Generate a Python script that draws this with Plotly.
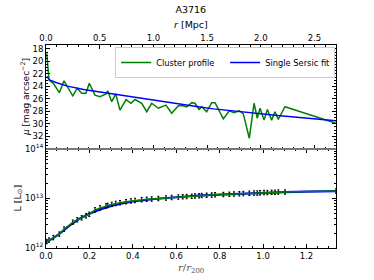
import plotly.graph_objects as go
import numpy as np

# ---------------- data ----------------
R200_MPC = 2.021  # Mpc, conversion between top (Mpc) and bottom (r/r200) axes

# surface-brightness profile (top panel): radius [Mpc], mu [mag arcsec^-2]
r_mpc = [0.007, 0.028, 0.068, 0.124, 0.168, 0.249, 0.291, 0.332, 0.372, 0.403,
         0.456, 0.503, 0.559, 0.574, 0.612, 0.649, 0.689, 0.745, 0.791, 0.829,
         0.891, 0.938, 0.984, 1.046, 1.117, 1.170, 1.232, 1.273, 1.310, 1.357,
         1.387, 1.425, 1.450, 1.496, 1.543, 1.574, 1.651, 1.707, 1.750, 1.800,
         1.837, 1.893, 1.937, 1.967, 1.993, 2.030, 2.061, 2.101, 2.132, 2.163,
         2.225, 2.700]
mu_profile = [18.7, 23.0, 23.5, 25.0, 23.1, 25.5, 24.3, 25.1, 25.1, 23.5,
              25.4, 25.65, 25.2, 24.7, 26.45, 25.2, 27.8, 26.1, 26.7, 26.1,
              26.7, 28.05, 26.7, 27.5, 27.0, 28.3, 27.1, 27.1, 27.3, 26.6,
              26.7, 27.7, 27.25, 28.05, 26.6, 26.6, 29.2, 27.9, 28.2, 27.9,
              28.4, 32.3, 26.7, 29.1, 27.5, 29.4, 27.7, 29.4, 28.05, 29.3,
              27.25, 29.9]

# single Sersic fit (top panel)
fit_r_mpc = [0.007, 0.037, 0.10, 0.20, 0.35, 0.50, 0.65, 0.80, 0.97, 1.12,
             1.25, 1.40, 1.56, 1.87, 2.18, 2.70]
fit_mu = [22.4, 23.0, 23.4, 23.95, 24.5, 24.9, 25.3, 25.7, 26.1, 26.45,
          26.85, 27.2, 27.6, 28.15, 28.7, 29.5]

# cumulative luminosity (bottom panel): log10(L / Lsun) at the profile radii
log_L_profile = [12.13, 12.16, 12.21, 12.28, 12.38, 12.52, 12.57, 12.61, 12.65, 12.68,
                 12.77, 12.81, 12.85, 12.86, 12.88, 12.90, 12.915, 12.935, 12.95, 12.96,
                 12.975, 12.985, 12.99, 13.0, 13.01, 13.02, 13.03, 13.035, 13.04, 13.045,
                 13.05, 13.055, 13.06, 13.065, 13.07, 13.075, 13.08, 13.085, 13.09, 13.095,
                 13.10, 13.105, 13.11, 13.11, 13.115, 13.12, 13.12, 13.125, 13.125, 13.13,
                 13.13, 13.15]

# cumulative luminosity of the Sersic fit (bottom panel)
fit_r_r200 = [0.0, 0.03, 0.06, 0.09, 0.12, 0.15, 0.20, 0.25, 0.30, 0.35,
              0.40, 0.50, 0.60, 0.70, 0.80, 0.90, 1.00, 1.10, 1.20, 1.336]
fit_log_L = [12.12, 12.19, 12.28, 12.39, 12.49, 12.58, 12.69, 12.78, 12.85, 12.90,
             12.94, 12.99, 13.03, 13.06, 13.08, 13.10, 13.115, 13.13, 13.14, 13.15]

top_tick_vals = [0.0, 0.5, 1.0, 1.5, 2.0, 2.5]
bottom_tick_vals = [0.0, 0.2, 0.4, 0.6, 0.8, 1.0, 1.2]
mu_tick_vals = [18, 20, 22, 24, 26, 28, 30, 32]
L_tick_vals = [1e12, 1e13, 1e14]
L_tick_text = ["10<sup>12</sup>", "10<sup>13</sup>", "10<sup>14</sup>"]

# ---------------- derived ----------------
r_r200 = [r / R200_MPC for r in r_mpc]
L_profile = [10 ** v for v in log_L_profile]
L_fit = [10 ** v for v in fit_log_L]
err_plus = [v * (10 ** 0.045 - 1) for v in L_profile]
err_minus = [v * (1 - 10 ** -0.045) for v in L_profile]

GREEN = "#008000"
BLUE = "#0000ff"
FONT = "DejaVu Sans"

fig = go.Figure()

fig.add_trace(go.Scatter(x=r_mpc, y=mu_profile, mode="lines", name="Cluster profile",
                         line=dict(color=GREEN, width=1.5), xaxis="x", yaxis="y"))
fig.add_trace(go.Scatter(x=fit_r_mpc, y=fit_mu, mode="lines", name="Single Sersic fit",
                         line=dict(color=BLUE, width=1.5), xaxis="x", yaxis="y"))

fig.add_trace(go.Scatter(x=fit_r_r200, y=L_fit, mode="lines", showlegend=False,
                         line=dict(color=BLUE, width=2.2), xaxis="x2", yaxis="y2"))
fig.add_trace(go.Scatter(x=r_r200, y=L_profile, mode="lines", showlegend=False,
                         line=dict(color=GREEN, width=1.5),
                         error_y=dict(type="data", array=err_plus, arrayminus=err_minus,
                                      color="black", thickness=1, width=1, visible=True),
                         xaxis="x2", yaxis="y2"))

SPLIT = 0.4877

common = dict(showline=True, linecolor="black", linewidth=1, mirror="allticks",
              ticks="inside", ticklen=4, tickcolor="black", showgrid=False,
              zeroline=False, tickfont=dict(family=FONT, size=8.5, color="black"))

fig.update_layout(
    width=374, height=280, autosize=False,
    margin=dict(l=46, r=38, t=45, b=32, autoexpand=False),
    paper_bgcolor="white", plot_bgcolor="white",
    font=dict(family=FONT, size=8.5, color="black"),
    title=dict(text="A3716", x=0.51, xanchor="center", y=0.964, yanchor="middle",
               font=dict(family=FONT, size=9.5, color="black")),
    showlegend=True,
    legend=dict(orientation="h", x=0.997, xanchor="right", y=0.99, yanchor="top",
                bgcolor="white", bordercolor="#cccccc", borderwidth=1,
                font=dict(family=FONT, size=8.3, color="black"),
                entrywidth=64, entrywidthmode="pixels",
                itemwidth=30, tracegroupgap=0),
    xaxis=dict(domain=[0, 1], anchor="y", side="top", range=[0, 2.7],
               tickvals=top_tick_vals, tickformat=".1f",
               minor=dict(ticks="inside", ticklen=2, dtick=0.1, tickcolor="black"),
               **common),
    yaxis=dict(domain=[SPLIT, 1], anchor="x", range=[34.03, 17.36],
               tickvals=mu_tick_vals,
               minor=dict(ticks="inside", ticklen=2, dtick=0.5, tickcolor="black"),
               **common),
    xaxis2=dict(domain=[0, 1], anchor="y2", range=[0, 1.336],
                tickvals=bottom_tick_vals, tickformat=".1f",
                minor=dict(ticks="inside", ticklen=2, dtick=0.05, tickcolor="black"),
                **common),
    yaxis2=dict(domain=[0, SPLIT], anchor="x2", type="log", range=[12, 14],
                tickvals=L_tick_vals, ticktext=L_tick_text,
                minor=dict(ticks="inside", ticklen=2, dtick="D1", tickcolor="black"),
                **common),
)

# shared boundary between panels (appears as a thicker grey line)
fig.add_shape(type="line", xref="paper", yref="paper", x0=0, x1=1, y0=SPLIT, y1=SPLIT,
              line=dict(color="#777777", width=2))

# axis titles
fig.add_annotation(text="<i>r</i> [Mpc]", xref="paper", yref="paper",
                   x=0.5, y=1 + 20 / 203, xanchor="center", yanchor="middle",
                   showarrow=False, font=dict(family=FONT, size=9.5, color="black"))
fig.add_annotation(text="<i>r</i>/<i>r</i><sub>200</sub>", xref="paper", yref="paper",
                   x=0.5, y=-20 / 203, xanchor="center", yanchor="middle",
                   showarrow=False, font=dict(family="DejaVu Serif", size=10, color="#555555"))
fig.add_annotation(text="<i>μ</i> [mag arcsec<sup>−2</sup>]", xref="paper", yref="paper",
                   x=-21 / 290, y=(SPLIT + 1) / 2, xanchor="center", yanchor="middle",
                   textangle=-90, showarrow=False,
                   font=dict(family=FONT, size=9, color="black"))
fig.add_annotation(text="L [L<sub>⊙</sub>]", xref="paper", yref="paper",
                   x=-28 / 290, y=SPLIT / 2, xanchor="center", yanchor="middle",
                   textangle=-90, showarrow=False,
                   font=dict(family=FONT, size=9.5, color="black"))

fig.write_html("out.html", config={"displayModeBar": False},
               post_script="document.body.style.margin='0';document.body.style.padding='0';")
